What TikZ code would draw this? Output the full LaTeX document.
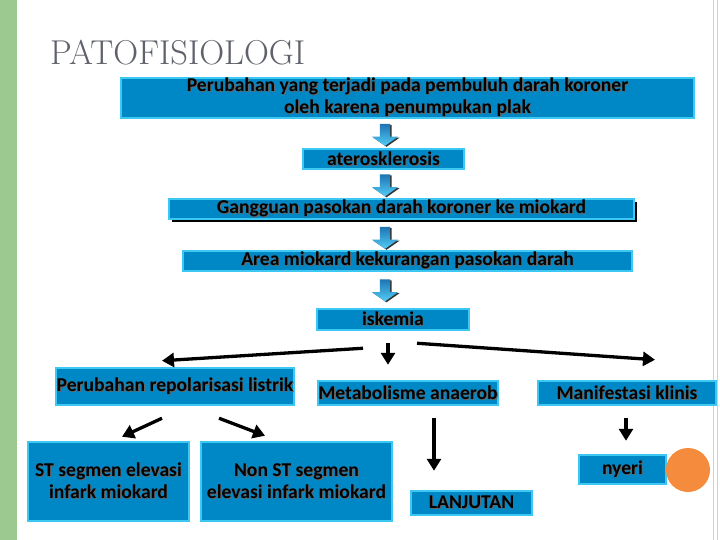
\documentclass[tikz,border=0pt]{standalone}
\usepackage{fontspec}
\newfontfamily\kotakfont{Carlito}
\usepackage{tikz}
\usetikzlibrary{positioning, calc, shapes.arrows, shadows, arrows.meta}
\usepackage{xcolor}
\definecolor{birukotak}{HTML}{0088C6}
\definecolor{tepikotak}{HTML}{3CC8F2}
\definecolor{hijaupita}{HTML}{9CC98F}
\definecolor{merahmuda}{HTML}{F2C4B4}
\definecolor{oranye}{HTML}{F58B3C}
\definecolor{abujudul}{HTML}{5F626A}
\definecolor{panahatas}{HTML}{1E74B4}
\definecolor{panahbawah}{HTML}{52CCF5}
\newcommand{\bayang}[1]{\leavevmode\raisebox{-1.5pt}{\rlap{\hspace{1pt}\raisebox{-1pt}{\color{black!60}#1}}#1}}

\begin{document}
\begin{tikzpicture}[x=1pt, y=-1pt,
	kotak/.style={draw=tepikotak, fill=birukotak, line width=2.5pt, inner sep=0pt, align=center,
		font=\kotakfont\bfseries\fontsize{19.6}{22}\selectfont},
	blokpanah/.style={single arrow, shape border rotate=270, minimum height=22pt, inner sep=5pt,
		single arrow head extend=8pt, single arrow tip angle=110, top color=panahatas, bottom color=panahbawah,
		drop shadow={shadow xshift=1.5pt, shadow yshift=-1pt, fill=black, opacity=0.8}},
	panahhitam/.style={line width=3.3pt, -{Triangle[length=12pt, width=14pt]}}
	]
	\useasboundingbox (0,0) rectangle (720,540);
	\fill[white] (0,0) rectangle (720,540);
	% pita samping
	\fill[hijaupita] (0,0) rectangle (17,540);
	\draw[merahmuda, line width=1.3pt] (713.5,0) -- (713.5,540);
	\draw[merahmuda, line width=1.3pt] (717.5,0) -- (717.5,540);
	\node[anchor=base west, inner sep=0pt, text=abujudul, font=\fontsize{34.5}{34.5}\selectfont] (judul) at (50,65) {PATOFISIOLOGI};

	% alur utama
	\node[kotak, minimum width=573pt, minimum height=40pt] (plak) at (407.5,98)
		{\bayang{Perubahan yang terjadi pada pembuluh darah koroner}\\ \bayang{oleh karena penumpukan plak}};
	\node[kotak, minimum width=161pt, minimum height=20pt] (ater) at (383.5,159) {\bayang{aterosklerosis}};
	\node[kotak, minimum width=465pt, minimum height=20pt,
		drop shadow={shadow xshift=3pt, shadow yshift=-3pt, fill=black, opacity=1}] (gang) at (401.5,209)
		{\bayang{Gangguan pasokan darah koroner ke miokard}};
	\node[kotak, minimum width=449pt, minimum height=20pt] (area) at (407.5,261) {\bayang{Area miokard kekurangan pasokan darah}};
	\node[kotak, minimum width=152pt, minimum height=21pt] (isk) at (393,319.5) {\bayang{iskemia}};
	\node[blokpanah] (p1) at (385,133) {};
	\node[blokpanah] (p2) at (385,183.5) {};
	\node[blokpanah] (p3) at (385,236) {};
	\node[blokpanah] (p4) at (385,288.5) {};

	% cabang
	\node[kotak, minimum width=238pt, minimum height=37pt] (repol) at (175,386.5) {\bayang{Perubahan repolarisasi listrik}};
	\node[kotak, minimum width=180pt, minimum height=24pt] (metab) at (408,393) {\bayang{Metabolisme anaerob}};
	\node[kotak, minimum width=178pt, minimum height=24pt] (manif) at (627,393) {\bayang{Manifestasi klinis}};
	\node[kotak, minimum width=161pt, minimum height=79pt] (stel) at (108.5,481.5)
		{\bayang{ST segmen elevasi}\\ \bayang{infark miokard}};
	\node[kotak, minimum width=191pt, minimum height=79pt] (nonst) at (296.5,481.5)
		{\bayang{Non ST segmen}\\ \bayang{elevasi infark miokard}};
	\node[kotak, minimum width=121pt, minimum height=24pt] (lanjut) at (471.5,503) {\bayang{LANJUTAN}};
	\node[kotak, minimum width=87pt, minimum height=29pt] (nyeri) at (622.5,469.5) {\bayang{nyeri}};
	\fill[oranye] (688,470) circle (22);

	\draw[panahhitam] ($(isk.south)+(-30,17)$) -- ($(repol.north)+(-13,-6)$);
	\draw[panahhitam] ($(isk.south)+(-5,12)$) -- ($(metab.north)+(-20,-15)$);
	\draw[panahhitam] ($(isk.south)+(24,12)$) -- ($(manif.north)+(28,-20)$);
	\draw[panahhitam] ($(repol.south)+(-13,12)$) -- ($(stel.north)+(13.5,-4)$);
	\draw[panahhitam] ($(repol.south)+(44,12)$) -- ($(nonst.north)+(-31.5,-5)$);
	\draw[panahhitam] ($(metab.south)+(26,12)$) -- ($(lanjut.north)+(-37.5,-19)$);
	\draw[panahhitam] ($(manif.south)+(-1,12)$) -- ($(nyeri.north)+(3.5,-13)$);
\end{tikzpicture}
\end{document}
